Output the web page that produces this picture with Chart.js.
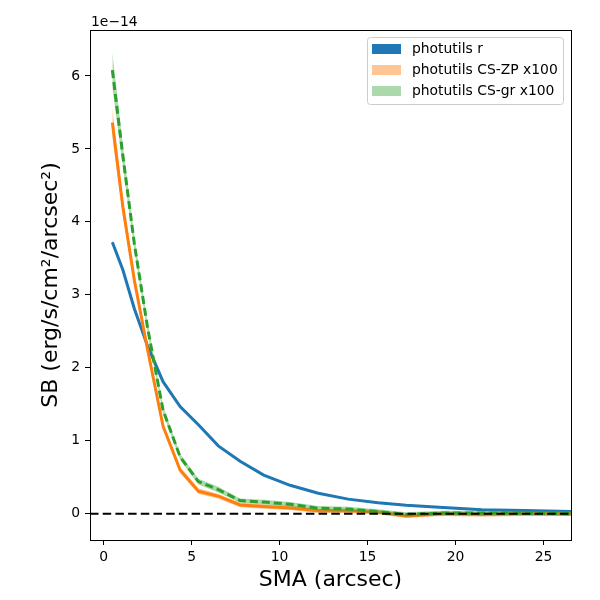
<!DOCTYPE html>
<html>
<head>
<meta charset="utf-8">
<script src="https://cdn.jsdelivr.net/npm/chart.js@4.4.0/dist/chart.umd.min.js"></script>
<style>
  body { margin: 0; background: #fff; }
  #wrap { width: 600px; height: 600px; }
</style>
</head>
<body>
<div id="wrap"><canvas id="myChart"></canvas></div>
<script>
// semi-major axis (arcsec)
const sma = [0.5, 1.1, 1.75, 2.5, 3.38, 4.35, 5.39, 6.52, 7.76, 9.1, 10.6, 12.2, 13.9, 15.6, 17.2, 19.3, 21.5, 23.9, 26.56]

// surface brightness, units of 1e-14
const sbR = [3.72, 3.34, 2.81, 2.3, 1.81, 1.47, 1.22, 0.93, 0.72, 0.53, 0.39, 0.28, 0.2, 0.15, 0.115, 0.085, 0.055, 0.045, 0.03]
const errR = [0.02, 0.02, 0.02, 0.015, 0.015, 0.015, 0.012, 0.012, 0.01, 0.01, 0.01, 0.01, 0.01, 0.01, 0.01, 0.01, 0.01, 0.01, 0.01]
const sbZP = [5.36, 4.2, 3.2, 2.25, 1.2, 0.6, 0.31, 0.24, 0.12, 0.1, 0.08, 0.04, 0.04, 0.02, -0.03, 0.0, -0.01, 0.0, 0.0]
const errZP = [0.2, 0.12, 0.08, 0.06, 0.05, 0.04, 0.04, 0.03, 0.03, 0.03, 0.03, 0.03, 0.03, 0.03, 0.03, 0.03, 0.03, 0.03, 0.03]
const sbGR = [6.08, 4.9, 3.7, 2.55, 1.42, 0.78, 0.44, 0.33, 0.18, 0.16, 0.13, 0.075, 0.065, 0.03, -0.01, 0.01, 0.01, 0.01, 0.0]
const errGR = [0.24, 0.14, 0.09, 0.07, 0.05, 0.04, 0.04, 0.04, 0.03, 0.03, 0.03, 0.03, 0.03, 0.03, 0.03, 0.03, 0.03, 0.03, 0.03]

const xTicks = [0, 5, 10, 15, 20, 25]
const yTicks = [0, 1, 2, 3, 4, 5, 6]
const xLimits = [-0.77, 26.56]
const yLimits = [-0.36, 6.63]

const legendNames = ['photutils r', 'photutils CS-ZP x100', 'photutils CS-gr x100']

const BLUE = '#1f77b4'
const ORANGE = '#ff7f0e'
const GREEN = '#2ca02c'
const FONT = 'DejaVu Sans'

const pts = (vals) => sma.map((x, i) => ({ x: x, y: vals[i] }))
const upper = (vals, err) => sma.map((x, i) => ({ x: x, y: vals[i] + err[i] }))
const lower = (vals, err) => sma.map((x, i) => ({ x: x, y: vals[i] - err[i] }))

function bandPair(vals, err, color, order) {
    return [
        { data: upper(vals, err), borderWidth: 0, pointRadius: 0, fill: false, order: order },
        { data: lower(vals, err), borderWidth: 0, pointRadius: 0, fill: '-1', backgroundColor: color, order: order }
    ]
}

// legend box drawn inside the axes, plus the offset text and frame
const extras = {
    id: 'extras',
    afterDraw(chart) {
        const c = chart.ctx
        const a = chart.chartArea
        c.save()
        c.strokeStyle = '#000'
        c.lineWidth = 1
        c.strokeRect(a.left + 0.5, a.top + 0.5, a.right - a.left, a.bottom - a.top)

        c.fillStyle = '#000'
        c.font = '13.9px ' + FONT
        c.textAlign = 'left'
        c.textBaseline = 'middle'
        c.fillText('1e\u221214', a.left + 1, 22)

        // legend
        const bx = 367, by = 37, bw = 196, bh = 67
        c.fillStyle = 'rgba(255,255,255,0.85)'
        c.strokeStyle = '#cccccc'
        c.beginPath()
        c.roundRect(bx + 0.5, by + 0.5, bw, bh, 3)
        c.fill()
        c.stroke()
        const patches = [BLUE, 'rgba(255,127,14,0.45)', 'rgba(44,160,44,0.4)']
        legendNames.forEach((name, i) => {
            const cy = 49 + i * 21
            c.fillStyle = patches[i]
            c.fillRect(372, cy - 5, 29, 10)
            c.fillStyle = '#000'
            c.font = '13.9px ' + FONT
            c.fillText(name, 412, cy)
        })
        c.restore()
    }
}

const ctx = document.getElementById('myChart').getContext('2d')

const myChart = new Chart(ctx, {
    type: 'line',
    data: {
        datasets: [
            ...bandPair(sbR, errR, BLUE, 9),
            { data: pts(sbR), borderColor: BLUE, borderWidth: 3, pointRadius: 0, fill: false, order: 8 },
            ...bandPair(sbZP, errZP, 'rgba(255,127,14,0.45)', 7),
            { data: pts(sbZP), borderColor: ORANGE, borderWidth: 3, pointRadius: 0, fill: false, order: 6 },
            ...bandPair(sbGR, errGR, 'rgba(44,160,44,0.4)', 5),
            { data: pts(sbGR), borderColor: GREEN, borderWidth: 3, borderDash: [8, 4], pointRadius: 0, fill: false, order: 4 },
            {
                data: [{ x: xLimits[0], y: 0 }, { x: xLimits[1], y: 0 }],
                borderColor: '#000', borderWidth: 2, borderDash: [8.5, 4.2], pointRadius: 0, fill: false, order: 1
            }
        ]
    },
    options: {
        animation: false,
        responsive: true,
        maintainAspectRatio: false,
        layout: { padding: { top: 30, right: 29, left: 0, bottom: 0 } },
        plugins: {
            legend: { display: false },
            tooltip: { enabled: false }
        },
        scales: {
            x: {
                type: 'linear',
                min: xLimits[0],
                max: xLimits[1],
                afterBuildTicks: (s) => { s.ticks = xTicks.map(v => ({ value: v })) },
                afterFit: (s) => { s.height = 60 },
                grid: { display: true, drawOnChartArea: false, drawTicks: true, tickLength: 5, color: '#000' },
                border: { display: true, color: '#000' },
                ticks: { color: '#000', font: { family: FONT, size: 13.9 }, padding: 4, maxRotation: 0 },
                title: { display: true, text: 'SMA (arcsec)', color: '#000', font: { family: FONT, size: 22 }, padding: { top: 0, bottom: 7 } }
            },
            y: {
                type: 'linear',
                min: yLimits[0],
                max: yLimits[1],
                afterBuildTicks: (s) => { s.ticks = yTicks.map(v => ({ value: v })) },
                afterFit: (s) => { s.width = 90 },
                grid: { display: true, drawOnChartArea: false, drawTicks: true, tickLength: 5, color: '#000' },
                border: { display: true, color: '#000' },
                ticks: { color: '#000', font: { family: FONT, size: 13.9 }, padding: 5 },
                title: { display: true, text: 'SB (erg/s/cm\u00b2/arcsec\u00b2)', color: '#000', font: { family: FONT, size: 22 }, padding: { top: 38, bottom: 0 } }
            }
        }
    },
    plugins: [extras]
})
</script>
</body>
</html>
